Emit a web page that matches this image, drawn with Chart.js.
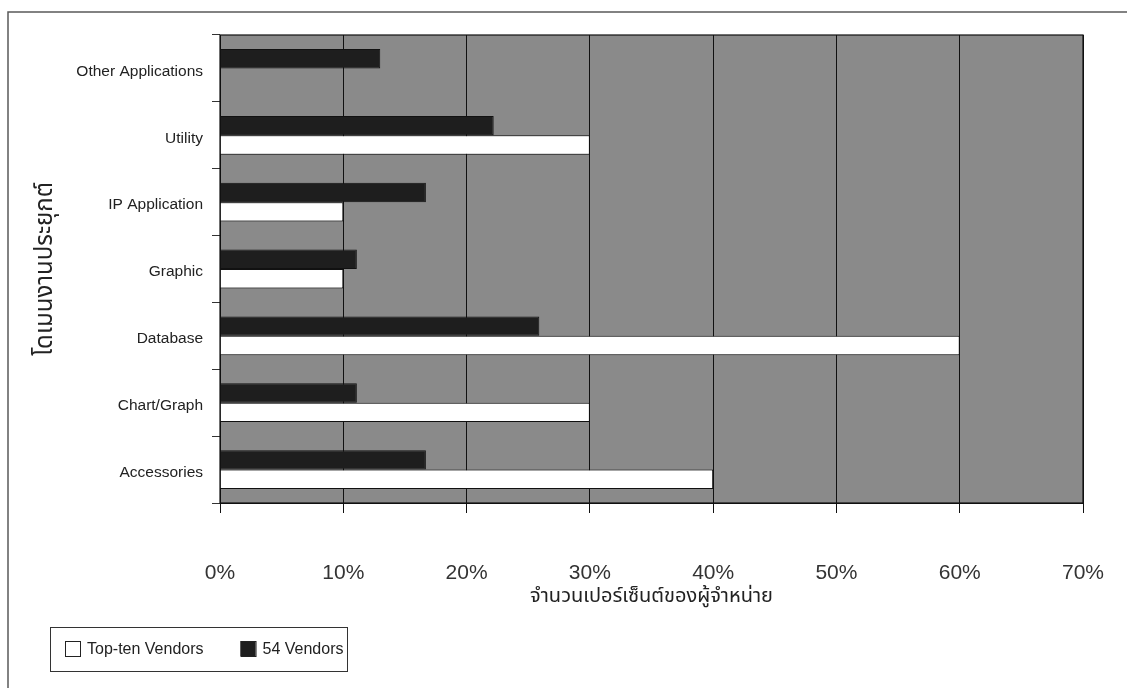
<!DOCTYPE html>
<html>
<head>
<meta charset="utf-8">
<script src="https://cdn.jsdelivr.net/npm/chart.js@4.4.0/dist/chart.umd.min.js"></script>
<style>
  html, body { margin: 0; padding: 0; background: #ffffff; }
  #wrap { width: 1127px; height: 688px; position: relative; }
  canvas { display: block; }
</style>
</head>
<body>
<div id="wrap"><canvas id="chart" width="1127" height="688"></canvas></div>
<script>
// Application domains, listed top to bottom
const categories = ['Other Applications', 'Utility', 'IP Application', 'Graphic', 'Database', 'Chart/Graph', 'Accessories'];
// Share of vendors (%) in each domain
const vendors54 = [13.0, 22.2, 16.7, 11.1, 25.9, 11.1, 16.7];
const topTenVendors = [0, 30, 10, 10, 60, 30, 40];
const seriesNames = { topTen: 'Top-ten Vendors', all54: '54 Vendors' };
const xTickValues = [0, 10, 20, 30, 40, 50, 60, 70];
const xAxisTitle = 'จำนวนเปอร์เซ็นต์ของผู้จำหน่าย';
const yAxisTitle = 'โดเมนงานประยุกต์';

const LATIN = '"Liberation Sans", Arial, sans-serif';
const THAI = '"Noto Sans Thai", "Noto Sans Thai Looped", "DejaVu Sans", sans-serif';

// Page frame and shaded plot area (drawn beneath the grid)
const backdrop = {
  id: 'backdrop',
  beforeDraw(chart) {
    const { ctx, chartArea: a } = chart;
    ctx.save();
    ctx.fillStyle = '#ffffff';
    ctx.fillRect(0, 0, chart.width, chart.height);
    ctx.strokeStyle = '#5a5a5a';
    ctx.lineWidth = 1.5;
    ctx.beginPath();
    ctx.moveTo(8, chart.height + 2);
    ctx.lineTo(8, 12);
    ctx.lineTo(chart.width + 2, 12);
    ctx.stroke();
    ctx.fillStyle = '#8a8a8a';
    ctx.fillRect(a.left, a.top, a.right - a.left, a.bottom - a.top);
    ctx.restore();
  },
  afterDraw(chart) {
    const { ctx, chartArea: a } = chart;
    ctx.save();
    ctx.strokeStyle = '#111111';
    ctx.lineWidth = 1.2;
    ctx.strokeRect(a.left, a.top, a.right - a.left, a.bottom - a.top);
    ctx.restore();
  }
};

// Boxed legend in the lower-left corner, built from the datasets
const boxedLegend = {
  id: 'boxedLegend',
  afterDraw(chart) {
    const { ctx } = chart;
    const items = chart.data.datasets.slice().reverse();
    const x0 = 50, y0 = 627, w = 297, h = 44;
    ctx.save();
    ctx.fillStyle = '#ffffff';
    ctx.fillRect(x0, y0, w, h);
    ctx.strokeStyle = '#333333';
    ctx.lineWidth = 1;
    ctx.strokeRect(x0 + 0.5, y0 + 0.5, w, h);
    ctx.font = '16px ' + LATIN;
    ctx.textBaseline = 'middle';
    let x = x0 + 15;
    const cy = y0 + h / 2;
    items.forEach((ds) => {
      ctx.fillStyle = ds.backgroundColor;
      ctx.fillRect(x, cy - 8, 15, 15);
      ctx.strokeStyle = '#222222';
      ctx.strokeRect(x + 0.5, cy - 7.5, 15, 15);
      ctx.fillStyle = '#222222';
      ctx.fillText(ds.label, x + 22, cy + 1);
      x += 22 + ctx.measureText(ds.label).width + 37;
    });
    ctx.restore();
  }
};

new Chart(document.getElementById('chart'), {
  type: 'bar',
  data: {
    labels: categories,
    datasets: [
      {
        label: seriesNames.all54,
        data: vendors54,
        backgroundColor: '#1e1e1e',
        borderColor: '#111111',
        borderWidth: 1,
        categoryPercentage: 0.58,
        barPercentage: 1.0
      },
      {
        label: seriesNames.topTen,
        data: topTenVendors,
        backgroundColor: '#ffffff',
        borderColor: '#111111',
        borderWidth: 1,
        categoryPercentage: 0.58,
        barPercentage: 1.0
      }
    ]
  },
  options: {
    indexAxis: 'y',
    responsive: false,
    animation: false,
    devicePixelRatio: 1,
    layout: { padding: { left: 0, top: 35, right: 44, bottom: 0 } },
    plugins: {
      legend: { display: false },
      tooltip: { enabled: false }
    },
    scales: {
      x: {
        type: 'linear',
        min: 0,
        max: 70,
        afterBuildTicks(scale) { scale.ticks = xTickValues.map(v => ({ value: v })); },
        afterFit(scale) {
          scale.height = 185;
          // let the end labels overhang instead of shrinking the plot
          scale.paddingLeft = 0;
          scale.paddingRight = 0;
        },
        grid: { color: '#111111', lineWidth: 1, tickLength: 10, drawOnChartArea: true },
        border: { color: '#111111', width: 1 },
        ticks: {
          callback: v => v + '%',
          color: '#333333',
          font: { family: LATIN, size: 21 },
          padding: 48,
          maxRotation: 0
        },
        title: {
          display: true,
          text: xAxisTitle,
          color: '#222222',
          font: { family: THAI, size: 20 },
          padding: { top: 0, bottom: 78 }
        }
      },
      y: {
        type: 'category',
        afterFit(scale) { scale.width = 220; },
        grid: { color: '#333333', drawOnChartArea: false, tickLength: 8, offset: true },
        border: { color: '#111111', width: 1 },
        ticks: {
          color: '#222222',
          font: { family: LATIN, size: 15.5 },
          padding: 9,
          labelOffset: 3
        },
        title: {
          display: true,
          text: yAxisTitle,
          color: '#222222',
          font: { family: THAI, size: 24 },
          padding: { top: 33, bottom: 0 }
        }
      }
    }
  },
  plugins: [backdrop, boxedLegend]
});
</script>
</body>
</html>
